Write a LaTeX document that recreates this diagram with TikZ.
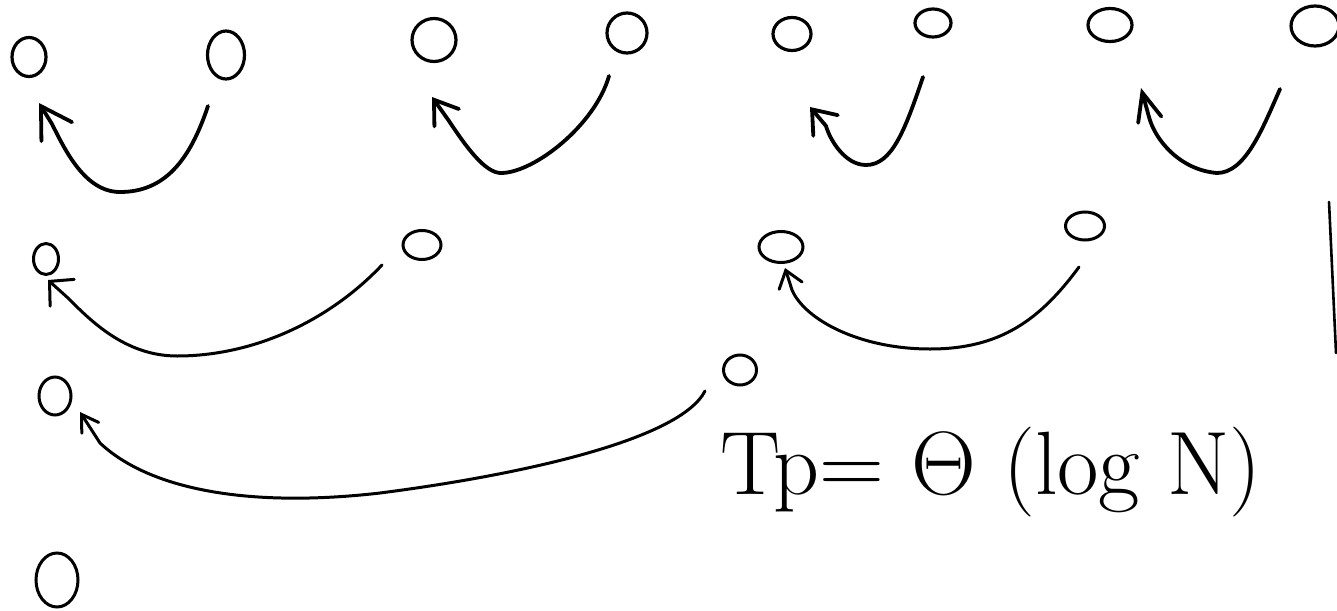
\RequirePackage{fix-cm}
\documentclass[tikz,border=0pt]{standalone}
\usetikzlibrary{shapes.geometric,arrows.meta}
\begin{document}
\begin{tikzpicture}[x=1pt,y=-1pt,
  nd/.style={draw,ellipse,line width=3.2pt,inner sep=0pt},
  thick arc/.style={line width=3.8pt,line cap=round},
  thin arc/.style={line width=3pt,line cap=round},
  hd/.style 2 args={-{Straight Barb[length=#1,width=#2,line cap=round]}}]
\useasboundingbox (0,0) rectangle (1337,610);
% row 1
\node[nd,minimum width=34pt,minimum height=39pt] (a1) at (29,57) {};
\node[nd,minimum width=37pt,minimum height=48pt] (a2) at (226,55) {};
\node[nd,minimum width=44pt,minimum height=43pt] (b1) at (434,40) {};
\node[nd,minimum width=40pt,minimum height=40pt] (b2) at (627,33) {};
\node[nd,minimum width=38pt,minimum height=33pt] (c1) at (792,34) {};
\node[nd,minimum width=36pt,minimum height=28pt] (c2) at (933,23) {};
\node[nd,minimum width=44pt,minimum height=33pt] (c3) at (1110,25) {};
\node[nd,minimum width=48pt,minimum height=40pt] (c4) at (1315,26) {};
% row 2
\node[nd,line width=3pt,minimum width=25pt,minimum height=31pt] (d1) at (46,259) {};
\node[nd,line width=3pt,minimum width=38pt,minimum height=29pt] (d2) at (422,245) {};
\node[nd,line width=3pt,minimum width=44pt,minimum height=31pt] (e1) at (781,247) {};
\node[nd,line width=3pt,minimum width=39pt,minimum height=28pt] (e2) at (1085,226) {};
% row 3 and 4
\node[nd,line width=3pt,minimum width=32pt,minimum height=38pt] (f1) at (55,396) {};
\node[nd,line width=3pt,minimum width=33pt,minimum height=30pt] (g1) at (740,370) {};
\node[nd,line width=3pt,minimum width=42pt,minimum height=54pt] (f2) at (57,580) {};
% arc end points
\coordinate (s1) at (208,106); \coordinate (t1) at (39,103);
\coordinate (s2) at (609,76);  \coordinate (t2) at (432,97);
\coordinate (s3) at (923,77);  \coordinate (t3) at (810,107);
\coordinate (s4) at (1280,89); \coordinate (t4) at (1141,88);
\coordinate (s5) at (382,265); \coordinate (t5) at (48,280);
\coordinate (s6) at (1079,267);\coordinate (t6) at (785,268);
\coordinate (s7) at (705,391); \coordinate (t7) at (80,412);
% arcs
\draw[thick arc,hd={30pt}{36pt}] (s1) .. controls (190,160) and (165,192) .. (120,192)
   .. controls (85,192) and (65,150) .. (52,124) -- (t1);
\draw[thick arc,hd={22pt}{30pt}] (s2) .. controls (595,125) and (535,172) .. (502,173)
   .. controls (485,174) and (465,145) .. (449,121) -- (t2);
\draw[thick arc,hd={21pt}{32pt}] (s3) .. controls (905,130) and (892,165) .. (866,165)
   .. controls (845,165) and (830,140) .. (826,126) -- (t3);
\draw[thick arc,hd={28pt}{24pt}] (s4) .. controls (1262,130) and (1245,173) .. (1217,173)
   .. controls (1180,170) and (1155,140) .. (1149,117) -- (t4);
\draw[thin arc,hd={17pt}{36pt}] (s5) .. controls (330,320) and (255,356) .. (177,356)
   .. controls (125,356) and (90,320) .. (68,298) -- (t5);
\draw[thin arc,hd={16pt}{24pt}] (s6) .. controls (1040,320) and (1000,349) .. (930,349)
   .. controls (860,349) and (805,320) .. (792,290) -- (t6);
\draw[thin arc,hd={16pt}{20pt}] (s7) .. controls (680,440) and (520,475) .. (380,493)
   .. controls (250,508) and (150,490) .. (100,443) -- (t7);
% vertical line
\coordinate (v1) at (1329,202); \coordinate (v2) at (1336,353);
\draw[line width=2.6pt,line cap=round] (v1) -- (v2);
% formula
\node[anchor=base west,inner sep=0pt,font=\fontsize{90}{96}\selectfont] (tp) at (720,494) {Tp= $\Theta$ (log N)};
\end{tikzpicture}
\end{document}
